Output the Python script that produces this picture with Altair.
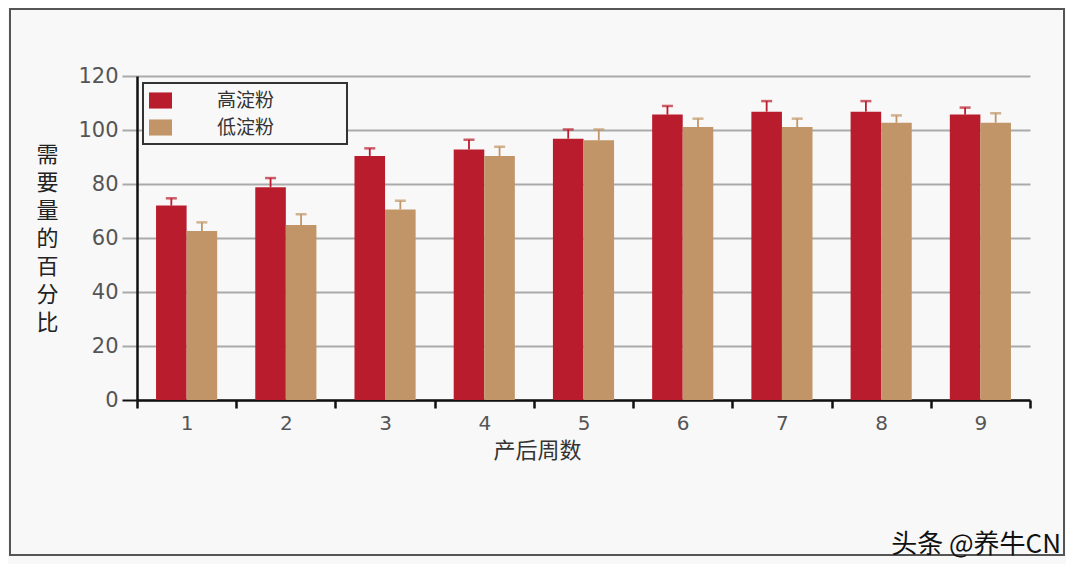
import altair as alt
import pandas as pd

weeks = ["1", "2", "3", "4", "5", "6", "7", "8", "9"]
groups = ["高淀粉", "低淀粉"]
high_vals = [72.0, 78.8, 90.4, 92.8, 96.8, 105.7, 106.8, 106.8, 105.7]
high_err = [2.7, 3.4, 2.8, 3.6, 3.4, 3.2, 3.9, 3.9, 2.6]
low_vals = [62.6, 64.8, 70.6, 90.4, 96.2, 101.1, 101.1, 102.7, 102.7]
low_err = [3.2, 4.0, 3.2, 3.4, 4.0, 3.1, 3.1, 2.7, 3.5]
colors = ["#B91C2D", "#C19567"]
y_ticks = [0, 20, 40, 60, 80, 100, 120]

rows = []
for i, w in enumerate(weeks):
    rows.append({"week": w, "group": groups[0], "value": high_vals[i], "upper": high_vals[i] + high_err[i]})
    rows.append({"week": w, "group": groups[1], "value": low_vals[i], "upper": low_vals[i] + low_err[i]})
df = pd.DataFrame(rows)

CJK = "Noto Sans CJK SC"
NUM = "DejaVu Sans"

x_enc = alt.X(
    "week:N", sort=weeks,
    scale=alt.Scale(paddingInner=0, paddingOuter=0),
    axis=alt.Axis(
        title="产后周数", titleFont=CJK, titleFontSize=22, titleFontWeight="normal",
        titleColor="#333", titleX=400, titleY=50, titleBaseline="middle",
        labelFont=NUM, labelFontSize=20, labelColor="#555", labelPadding=5, labelAngle=0,
        domainColor="#111", domainWidth=2.5, tickColor="#111", tickWidth=2.5,
        tickSize=8, tickBand="extent", grid=False,
    ),
)
xoff = alt.XOffset("group:N", sort=groups, scale=alt.Scale(paddingInner=0, paddingOuter=0.623))
y_scale = alt.Scale(domain=[0, 120], nice=False)

frame = alt.Chart(pd.DataFrame({"a": [0]})).mark_rect(
    fill="transparent", stroke="#555", strokeWidth=2
).encode(
    x=alt.value(-127), x2=alt.value(927), y=alt.value(-67), y2=alt.value(479)
)

bars = alt.Chart(df).mark_bar().encode(
    x=x_enc,
    xOffset=xoff,
    y=alt.Y(
        "value:Q", scale=y_scale,
        axis=alt.Axis(
            values=y_ticks, title=list("需要量的百分比"), titleAngle=0, titleAlign="center",
            titleBaseline="top", titleX=-90, titleY=68, titleLineHeight=28,
            titleFont=CJK, titleFontSize=22, titleFontWeight="normal", titleColor="#222",
            labelFont=NUM, labelFontSize=21, labelColor="#555", labelPadding=4,
            domainColor="#111", domainWidth=2.5,
            tickColor={"condition": {"test": "datum.value === 0", "value": "#111"}, "value": "#aaa"},
            tickWidth=2, tickSize=15,
            grid=True, gridColor="#aaa", gridWidth=2,
        ),
    ),
    fill=alt.Fill(
        "group:N", sort=groups, scale=alt.Scale(domain=groups, range=colors),
        legend=alt.Legend(
            title=None, orient="none", legendX=6, legendY=7,
            symbolType="M-1,-0.7H1V0.7H-1Z", symbolSize=529, symbolStrokeWidth=0,
            labelFont=CJK, labelFontSize=19, labelColor="#333", labelOffset=45,
            labelExpr="datum.label + '\u3000\u3000\u3000\u2002\u200b'",
            rowPadding=5, padding=6, strokeColor="#333",
            fillColor="#f8f8f8",
        ),
    ),
)

err_color = alt.Color("group:N", sort=groups, scale=alt.Scale(domain=groups, range=colors), legend=None)

rules = alt.Chart(df).mark_rule(strokeWidth=1.8).encode(
    x=alt.X("week:N", sort=weeks),
    xOffset=xoff,
    y=alt.Y("value:Q", scale=y_scale),
    y2="upper:Q",
    color=err_color,
)

caps = alt.Chart(df).mark_tick(thickness=2.5, size=11).encode(
    x=alt.X("week:N", sort=weeks),
    xOffset=xoff,
    y=alt.Y("upper:Q", scale=y_scale),
    color=err_color,
)

mark_text = alt.Chart(pd.DataFrame({"t": ["头条 @养牛CN"]})).mark_text(
    font=CJK, fontSize=26, align="right", baseline="alphabetic", color="#111"
).encode(
    text="t:N", x=alt.value(924), y=alt.value(477)
)

chart = alt.layer(frame, bars, rules, caps, mark_text).properties(
    width=893, height=324,
    autosize=alt.AutoSizeParams(type="none"),
    padding={"left": 129, "top": 68, "right": 36, "bottom": 164},
    background="#f8f8f8",
).configure_view(stroke="transparent").configure_legend(strokeWidth=2)

chart.save("out.html", embed_options={"renderer": "svg", "actions": False})
